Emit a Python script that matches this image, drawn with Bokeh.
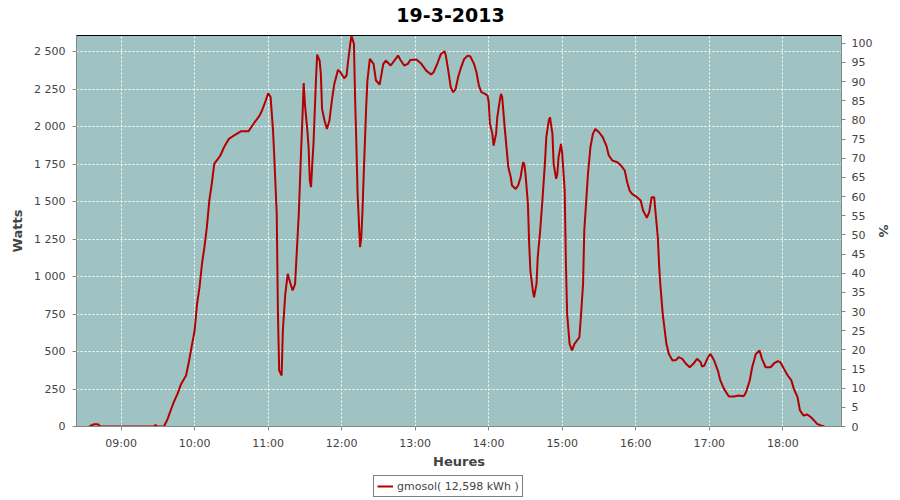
import pandas as pd
from bokeh.plotting import figure
from bokeh.layouts import column
from bokeh.models import (Range1d, LinearAxis, FixedTicker, DatetimeTickFormatter,
                          Legend, LegendItem, Label)
from bokeh.embed import file_html
from bokeh.resources import INLINE

# ---------------- data ----------------
title_text = "19-3-2013"
series_name = "gmosol( 12,598 kWh )"

times = [
    "08:34", "08:38", "08:41", "08:43", "09:27", "09:28", "09:30", "09:35", "09:38", "09:41",
    "09:43", "09:46", "09:49", "09:53", "09:55", "09:57", "10:00", "10:02", "10:04", "10:06",
    "10:08", "10:10", "10:12", "10:14", "10:16", "10:19", "10:21", "10:24", "10:28", "10:32",
    "10:38", "10:44", "10:49", "10:53", "10:55", "10:58", "11:00", "11:02", "11:04", "11:05",
    "11:07", "11:08", "11:09", "11:11", "11:12", "11:14", "11:16", "11:17", "11:20", "11:22",
    "11:23", "11:25", "11:27", "11:28", "11:29", "11:30", "11:32", "11:33", "11:34", "11:35",
    "11:36", "11:37", "11:39", "11:40", "11:42", "11:43", "11:44", "11:46", "11:48", "11:50",
    "11:52", "11:54", "11:57", "11:59", "12:02", "12:04", "12:05", "12:07", "12:08", "12:10",
    "12:11", "12:12", "12:13", "12:15", "12:16", "12:17", "12:18", "12:20", "12:21", "12:23",
    "12:26", "12:28", "12:31", "12:33", "12:34", "12:36", "12:40", "12:43", "12:46", "12:48",
    "12:51", "12:54", "12:56", "13:01", "13:05", "13:09", "13:13", "13:15", "13:18", "13:21",
    "13:24", "13:25", "13:27", "13:29", "13:31", "13:33", "13:35", "13:37", "13:40", "13:43",
    "13:45", "13:48", "13:50", "13:52", "13:54", "13:57", "13:59", "14:00", "14:01", "14:03",
    "14:04", "14:06", "14:07", "14:09", "14:10", "14:11", "14:13", "14:15", "14:16", "14:18",
    "14:19", "14:22", "14:24", "14:26", "14:28", "14:29", "14:30", "14:32", "14:33", "14:34",
    "14:36", "14:37", "14:39", "14:40", "14:42", "14:44", "14:46", "14:47", "14:49", "14:50",
    "14:52", "14:53", "14:55", "14:56", "14:57", "14:59", "15:00", "15:02", "15:03", "15:04",
    "15:06", "15:08", "15:10", "15:14", "15:15", "15:17", "15:18", "15:21", "15:23", "15:25",
    "15:27", "15:30", "15:33", "15:36", "15:38", "15:41", "15:45", "15:48", "15:51", "15:53",
    "15:55", "15:57", "16:01", "16:04", "16:06", "16:09", "16:11", "16:13", "16:15", "16:16",
    "16:18", "16:19", "16:20", "16:22", "16:24", "16:25", "16:27", "16:30", "16:33", "16:35",
    "16:38", "16:41", "16:44", "16:47", "16:50", "16:53", "16:54", "16:56", "16:59", "17:01",
    "17:04", "17:07", "17:09", "17:12", "17:16", "17:20", "17:24", "17:28", "17:30", "17:33",
    "17:35", "17:38", "17:41", "17:43", "17:46", "17:50", "17:53", "17:56", "17:58", "18:01",
    "18:04", "18:07", "18:09", "18:12", "18:14", "18:17", "18:20", "18:23", "18:26", "18:28",
    "18:31", "18:34",
]

watts = [
    0, 15, 15, 0, 0, 10, 0, 0, 51, 120,
    162, 218, 284, 340, 418, 507, 640, 818, 929, 1085,
    1196, 1329, 1507, 1618, 1751, 1784, 1807, 1862, 1918, 1940,
    1969, 1969, 2029, 2073, 2107, 2173, 2222, 2196, 1973, 1796,
    1418, 751, 373, 340, 640, 885, 1018, 985, 907, 951,
    1107, 1418, 1862, 2062, 2290, 2150, 1973, 1862, 1640, 1596,
    1751, 1884, 2307, 2480, 2440, 2351, 2118, 2040, 1984, 2040,
    2173, 2284, 2378, 2362, 2322, 2340, 2418, 2551, 2605, 2551,
    2173, 1884, 1551, 1196, 1260, 1440, 1684, 2129, 2307, 2451,
    2418, 2307, 2280, 2373, 2418, 2440, 2407, 2440, 2473, 2444,
    2407, 2418, 2444, 2447, 2418, 2373, 2347, 2362, 2418, 2484,
    2502, 2473, 2373, 2262, 2229, 2250, 2329, 2384, 2451, 2473,
    2467, 2418, 2362, 2273, 2229, 2218, 2207, 2162, 2018, 1951,
    1873, 1951, 2062, 2173, 2218, 2196, 1996, 1818, 1729, 1662,
    1607, 1584, 1607, 1662, 1762, 1751, 1684, 1484, 1218, 1040,
    907, 862, 951, 1129, 1307, 1529, 1773, 1929, 2040, 2062,
    1951, 1751, 1651, 1684, 1796, 1884, 1818, 1573, 1085, 751,
    551, 507, 551, 595, 707, 951, 1307, 1684, 1862, 1951,
    1984, 1962, 1929, 1873, 1807, 1773, 1762, 1740, 1707, 1629,
    1573, 1551, 1529, 1507, 1440, 1391, 1429, 1529, 1529, 1440,
    1262, 1085, 951, 751, 618, 551, 484, 440, 444, 462,
    451, 418, 395, 418, 451, 429, 400, 407, 462, 484,
    440, 373, 307, 251, 200, 200, 207, 202, 229, 307,
    395, 484, 507, 451, 395, 395, 422, 435, 429, 384,
    340, 307, 251, 196, 107, 73, 80, 62, 36, 18,
    7, 0,
]

x_tick_labels = ["09:00", "10:00", "11:00", "12:00", "13:00",
                 "14:00", "15:00", "16:00", "17:00", "18:00"]
watt_ticks = [0, 250, 500, 750, 1000, 1250, 1500, 1750, 2000, 2250, 2500]
watt_tick_labels = ["0", "250", "500", "750", "1 000", "1 250", "1 500",
                    "1 750", "2 000", "2 250", "2 500"]
pct_ticks = list(range(0, 101, 5))

day = "2013-03-19 "
x_start = "08:23:36"
x_end = "18:47:54"
y_max = 2607
pct_max = 102

# ---------------- styling / layout ----------------
BG = "#9EC3C2"
LINE = "#B40000"
AX = "#888888"
TXT = "#444444"
FONT = "DejaVu Sans"
W = 892
FL, FW = 76, 765          # frame left edge and width (strips are frame-aligned)

t = pd.to_datetime([day + s for s in times])
tick_ms = [pd.Timestamp(day + s).value / 1e6 for s in x_tick_labels]


def strip_fig(h):
    # frame-aligned with the main chart; x range maps 1:1 to page pixels
    f = figure(output_backend="svg", toolbar_location=None, width=W, height=h,
               x_range=Range1d(FL, FL + FW), y_range=Range1d(0, h),
               min_border_left=0, min_border_right=0, min_border_top=0, min_border_bottom=0,
               x_axis_location=None, y_axis_location=None, title_location=None,
               outline_line_color=None, background_fill_color="white",
               border_fill_color="white")
    f.xgrid.visible = False
    f.ygrid.visible = False
    return f


# ---------------- title strip ----------------
tfig = strip_fig(35)
tfig.add_layout(Label(x=451, y=21, text=title_text, text_align="center",
                      text_baseline="middle", text_font=FONT, text_font_size="19px",
                      text_font_style="bold", text_color="black"))

# ---------------- main chart ----------------
p = figure(
    output_backend="svg", toolbar_location=None,
    x_axis_type="datetime", title_location=None,
    frame_width=FW, frame_height=391,
    min_border_left=FL, min_border_right=51, min_border_top=0, min_border_bottom=46,
    x_range=Range1d(pd.Timestamp(day + x_start), pd.Timestamp(day + x_end)),
    y_range=Range1d(0, y_max),
    background_fill_color=BG, border_fill_color="white",
    outline_line_color="black", outline_line_width=1,
)
p.extra_y_ranges = {"pct": Range1d(0, pct_max)}

r = p.line(t, watts, line_color=LINE, line_width=2)

xa = p.xaxis[0]
xa.ticker = FixedTicker(ticks=tick_ms)
xa.formatter = DatetimeTickFormatter(hours="%H:%M", minutes="%H:%M", hourmin="%H:%M", days="%H:%M")
xa.axis_label = "Heures"

ya = p.yaxis[0]
ya.ticker = FixedTicker(ticks=watt_ticks)
ya.major_label_overrides = {v: s for v, s in zip(watt_ticks, watt_tick_labels)}
ya.axis_label = "Watts"

ra = LinearAxis(y_range_name="pct", axis_label="%")
ra.ticker = FixedTicker(ticks=pct_ticks)
p.add_layout(ra, "right")

for ax in (xa, ya, ra):
    ax.axis_line_color = AX
    ax.major_tick_line_color = AX
    ax.major_tick_out = 4
    ax.major_tick_in = 0
    ax.minor_tick_line_color = None
    ax.major_label_text_font = FONT
    ax.major_label_text_font_size = "11px"
    ax.major_label_text_color = TXT
    ax.axis_label_text_font = FONT
    ax.axis_label_text_font_size = "13px"
    ax.axis_label_text_font_style = "bold"
    ax.axis_label_text_color = TXT
    ax.axis_label_standoff = 6
ya.major_label_standoff = 7
ra.major_label_standoff = 6
ra.axis_label_standoff = 1
xa.major_label_standoff = 6
xa.axis_label_standoff = 1

for g in (p.xgrid[0], p.ygrid[0]):
    g.grid_line_color = "white"
    g.grid_line_dash = "2 2"
    g.grid_line_width = 1
p.xgrid[0].ticker = xa.ticker
p.ygrid[0].ticker = ya.ticker

# ---------------- legend strip ----------------
lfig = strip_fig(26)
# same series, outside this strip's view: only its legend swatch shows
lr = lfig.line(t, watts, line_color=LINE, line_width=2)
legend = Legend(items=[LegendItem(label=series_name, renderers=[lr])],
                orientation="horizontal", location=(373 - FL, 1),
                border_line_color="black", border_line_width=1,
                padding=3, spacing=0, margin=0,
                label_text_font=FONT, label_text_font_size="11px",
                label_text_color=TXT, label_height=14, glyph_height=14,
                glyph_width=16, label_standoff=4,
                background_fill_color="white", background_fill_alpha=1)
lfig.add_layout(legend, "center")

layout = column(tfig, p, lfig, spacing=0)
open("out.html", "w").write(file_html(layout, INLINE))
